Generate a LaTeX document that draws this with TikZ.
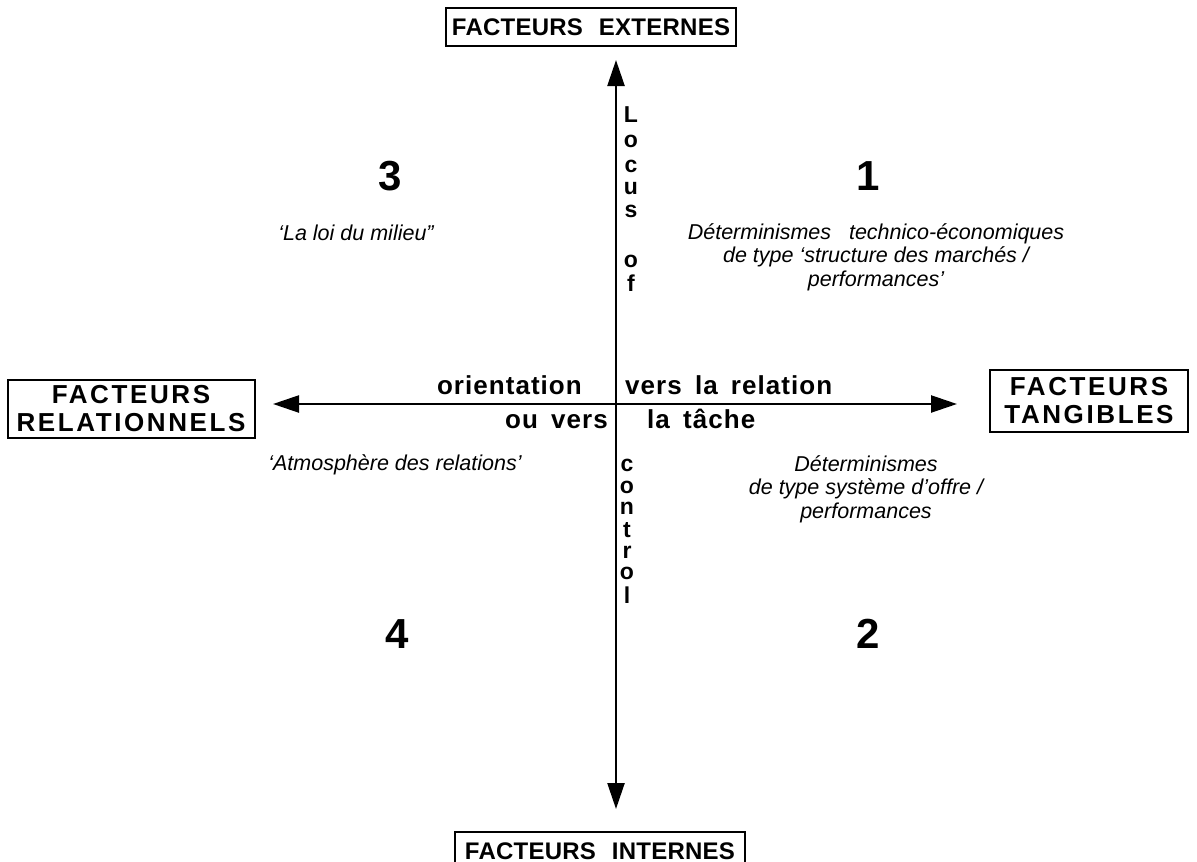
\documentclass[tikz,border=0pt]{standalone}
\usepackage{fontspec}
\setmainfont{Liberation Sans}
\newfontfamily\largefont[LetterSpace=10]{Liberation Sans}
\newfontfamily\serrefont[LetterSpace=1]{Liberation Sans}
\newfontfamily\motfont[LetterSpace=4,WordSpace=1.6]{Liberation Sans}
\usetikzlibrary{positioning,arrows.meta}

\begin{document}
\begin{tikzpicture}[x=1pt,y=-1pt,
  axe/.style={line width=2.4pt,{Triangle[length=26pt,width=17pt]}-{Triangle[length=26pt,width=17pt]}},
  facteur/.style={draw,line width=2pt,inner sep=0pt,align=center,font=\largefont\bfseries\fontsize{26}{28}\selectfont},
  facteurlong/.style={draw,line width=2pt,inner sep=0pt,font=\serrefont\bfseries\fontsize{24}{27}\selectfont},
  chiffre/.style={font=\bfseries\fontsize{42}{42}\selectfont},
  note/.style={align=center,font=\itshape\fontsize{21.5}{23.5}\selectfont},
  lettre/.style={inner sep=0pt,font=\bfseries\fontsize{23}{23}\selectfont},
  mot/.style={inner sep=0pt,font=\motfont\bfseries\fontsize{26}{26}\selectfont}]
\useasboundingbox (0,0) rectangle (1197,862);

% les quatre facteurs
\node[facteurlong,minimum width=290pt,minimum height=38pt] (ext) at (591,27) {FACTEURS\hspace{16pt}EXTERNES};
\node[facteurlong,minimum width=290pt,minimum height=38pt] (int) at (600,851) {FACTEURS\hspace{16pt}INTERNES};
\node[facteur,minimum width=247pt,minimum height=58pt] (rel) at (131,409) {FACTEURS\\RELATIONNELS};
\node[facteur,minimum width=198pt,minimum height=62pt] (tang) at (1089,401) {FACTEURS\\TANGIBLES};

% axes
\coordinate (haut) at (616,60);
\coordinate (bas) at (616,809);
\coordinate (gauche) at (273,404);
\coordinate (droite) at (957,404);
\draw[axe] (bas) -- (haut);
\draw[axe] (gauche) -- (droite);

% texte le long de l'axe vertical
\foreach \l/\y in {L/115,o/141,c/166,u/189,s/211,o/261,f/283}
  \node[lettre] (locus\y) at (631,\y) {\l};
\foreach \l/\y in {c/465,o/487,n/508,t/530,r/552,o/573,l/595}
  \node[lettre] (control\y) at (627,\y) {\l};

% texte le long de l'axe horizontal
\node[mot,anchor=base east] (orient) at (582,394) {orientation};
\node[mot,anchor=base west] (relation) at (625,394) {vers la relation};
\node[mot,anchor=base east] (ouvers) at (608,428) {ou vers};
\node[mot,anchor=base west] (tache) at (647,428) {la tâche};

% quadrants
\node[chiffre] (q1) at (868,176) {1};
\node[chiffre] (q2) at (868,634) {2};
\node[chiffre] (q3) at (390,176) {3};
\node[chiffre] (q4) at (397,634) {4};

\node[note] (milieu) at (356,233) {‘La loi du milieu”};
\node[note] (marches) at (876,257) {Déterminismes\ \ \ technico-économiques\\de type ‘structure des marchés /\\performances’};
\node[note] (atmo) at (395,465) {‘Atmosphère des relations’};
\node[note] (offre) at (866,489) {Déterminismes\\de type système d’offre /\\performances};
\end{tikzpicture}
\end{document}
